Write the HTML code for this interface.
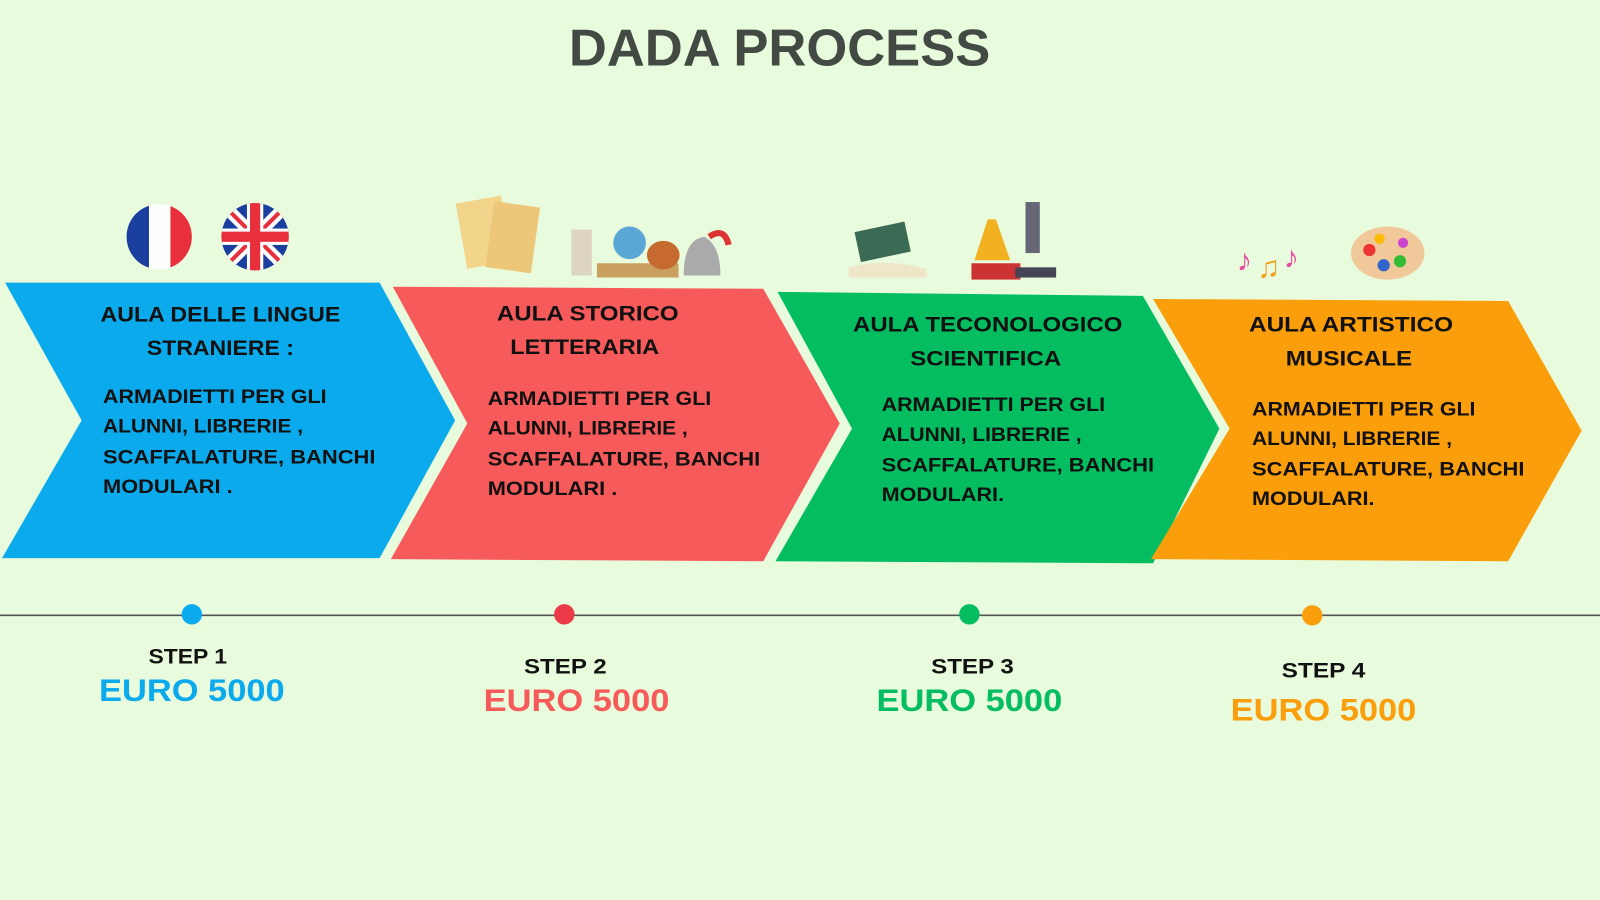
<!DOCTYPE html>
<html><head><meta charset="utf-8"><style>
html,body{margin:0;padding:0;background:#e8fbdc;}
svg{display:block}
text{font-family:"Liberation Sans",sans-serif;font-weight:bold;}
</style></head><body>
<svg width="1600" height="900" viewBox="0 0 1568 882" preserveAspectRatio="none" xmlns="http://www.w3.org/2000/svg">
<rect width="1568" height="882" fill="#e8fbdc"/>
<text x="764" y="64" font-size="51" text-anchor="middle" fill="#434a43" textLength="413" lengthAdjust="spacingAndGlyphs">DADA PROCESS</text>

<polygon points="5,277 372,277 446,412 372,547 2,547 80,412" fill="#0aaaec"/>
<polygon points="385,281 748,283 823,415 748,550 383,548 458,415" fill="#f75a5a"/>
<polygon points="762,286 1120,290 1195,420 1130,552 760,550 835,420" fill="#04bd60"/>
<polygon points="1130,293 1478,295 1550,422 1478,550 1128,548 1205,420" fill="#fb9e0b"/>

<g fill="#111" font-size="21" text-anchor="middle" lengthAdjust="spacingAndGlyphs">
<text x="216" y="315" textLength="235" lengthAdjust="spacingAndGlyphs">AULA DELLE LINGUE</text><text x="216" y="348" textLength="144" lengthAdjust="spacingAndGlyphs">STRANIERE :</text>
<text x="576" y="314" textLength="178" lengthAdjust="spacingAndGlyphs">AULA STORICO</text><text x="573" y="347" textLength="146" lengthAdjust="spacingAndGlyphs">LETTERARIA</text>
<text x="968" y="325" textLength="264" lengthAdjust="spacingAndGlyphs">AULA TECONOLOGICO</text><text x="966" y="358" textLength="148" lengthAdjust="spacingAndGlyphs">SCIENTIFICA</text>
<text x="1324" y="325" textLength="200" lengthAdjust="spacingAndGlyphs">AULA ARTISTICO</text><text x="1322" y="358" textLength="124" lengthAdjust="spacingAndGlyphs">MUSICALE</text>
</g>
<g fill="#111" font-size="19">
<text x="101" y="395" textLength="219" lengthAdjust="spacingAndGlyphs">ARMADIETTI PER GLI</text><text x="101" y="424" textLength="196" lengthAdjust="spacingAndGlyphs">ALUNNI, LIBRERIE ,</text><text x="101" y="454" textLength="267" lengthAdjust="spacingAndGlyphs">SCAFFALATURE, BANCHI</text><text x="101" y="483" textLength="127" lengthAdjust="spacingAndGlyphs">MODULARI .</text>
<text x="478" y="397" textLength="219" lengthAdjust="spacingAndGlyphs">ARMADIETTI PER GLI</text><text x="478" y="426" textLength="196" lengthAdjust="spacingAndGlyphs">ALUNNI, LIBRERIE ,</text><text x="478" y="456" textLength="267" lengthAdjust="spacingAndGlyphs">SCAFFALATURE, BANCHI</text><text x="478" y="485" textLength="127" lengthAdjust="spacingAndGlyphs">MODULARI .</text>
<text x="864" y="403" textLength="219" lengthAdjust="spacingAndGlyphs">ARMADIETTI PER GLI</text><text x="864" y="432" textLength="196" lengthAdjust="spacingAndGlyphs">ALUNNI, LIBRERIE ,</text><text x="864" y="462" textLength="267" lengthAdjust="spacingAndGlyphs">SCAFFALATURE, BANCHI</text><text x="864" y="491" textLength="120" lengthAdjust="spacingAndGlyphs">MODULARI.</text>
<text x="1227" y="407" textLength="219" lengthAdjust="spacingAndGlyphs">ARMADIETTI PER GLI</text><text x="1227" y="436" textLength="196" lengthAdjust="spacingAndGlyphs">ALUNNI, LIBRERIE ,</text><text x="1227" y="466" textLength="267" lengthAdjust="spacingAndGlyphs">SCAFFALATURE, BANCHI</text><text x="1227" y="495" textLength="120" lengthAdjust="spacingAndGlyphs">MODULARI.</text>
</g>

<line x1="0" y1="603" x2="1568" y2="603" stroke="#555" stroke-width="1.5"/>
<circle cx="188" cy="602" r="10" fill="#0aaaec"/>
<circle cx="553" cy="602" r="10" fill="#ec3a48"/>
<circle cx="950" cy="602" r="10" fill="#04bd60"/>
<circle cx="1286" cy="603" r="10" fill="#fb9e0b"/>

<g font-size="21" fill="#111" text-anchor="middle">
<text x="184" y="650" textLength="77" lengthAdjust="spacingAndGlyphs">STEP 1</text><text x="554" y="660" textLength="81" lengthAdjust="spacingAndGlyphs">STEP 2</text><text x="953" y="660" textLength="81" lengthAdjust="spacingAndGlyphs">STEP 3</text><text x="1297" y="664" textLength="82" lengthAdjust="spacingAndGlyphs">STEP 4</text>
</g>
<g font-size="31" text-anchor="middle">
<text x="188" y="687" fill="#0aaaec" textLength="182" lengthAdjust="spacingAndGlyphs">EURO 5000</text>
<text x="565" y="697" fill="#f75a5a" textLength="182" lengthAdjust="spacingAndGlyphs">EURO 5000</text>
<text x="950" y="697" fill="#04bd60" textLength="182" lengthAdjust="spacingAndGlyphs">EURO 5000</text>
<text x="1297" y="706" fill="#fb9e0b" textLength="182" lengthAdjust="spacingAndGlyphs">EURO 5000</text>
</g>

<clipPath id="c1"><circle cx="156" cy="232" r="32"/></clipPath>
<g clip-path="url(#c1)"><rect x="124" y="200" width="22" height="64" fill="#1a3f9e"/><rect x="146" y="200" width="21" height="64" fill="#fff"/><rect x="167" y="200" width="22" height="64" fill="#e8303d"/></g>
<clipPath id="c2"><circle cx="250" cy="232" r="33"/></clipPath>
<g clip-path="url(#c2)"><rect x="216" y="198" width="68" height="68" fill="#1a3f9e"/>
<path d="M216,198 L284,266 M284,198 L216,266" stroke="#fff" stroke-width="12"/>
<path d="M216,198 L284,266 M284,198 L216,266" stroke="#e8303d" stroke-width="4"/>
<rect x="216" y="224" width="68" height="16" fill="#fff"/><rect x="242" y="198" width="16" height="68" fill="#fff"/>
<rect x="216" y="227" width="68" height="10" fill="#e8303d"/><rect x="245" y="198" width="10" height="68" fill="#e8303d"/></g>

<g>
<rect x="452" y="195" width="45" height="65" fill="#f2d48a" transform="rotate(-10 475 228)"/>
<rect x="480" y="200" width="45" height="65" fill="#ecc77a" transform="rotate(8 502 232)"/>
<rect x="560" y="225" width="20" height="45" fill="#ddd5c0"/>
<circle cx="617" cy="238" r="16" fill="#5aa7d6"/>
<rect x="585" y="258" width="80" height="14" fill="#c9a060"/>
<ellipse cx="650" cy="250" rx="16" ry="14" fill="#c66a30"/>
<path d="M670,270 Q670,235 690,232 Q706,240 706,270Z" fill="#aaa"/>
<path d="M695,232 Q710,222 714,240" stroke="#d33" stroke-width="6" fill="none"/>
<rect x="840" y="222" width="50" height="30" fill="#3b6b55" transform="rotate(-12 865 237)"/>
<path d="M832,262 Q870,252 908,264 L908,272 L832,272Z" fill="#efe5c8"/>
<rect x="952" y="258" width="48" height="16" fill="#c33"/>
<path d="M968,215 L976,215 L990,255 L955,255Z" fill="#f2b120"/>
<rect x="1005" y="198" width="14" height="50" fill="#667"/>
<rect x="995" y="262" width="40" height="10" fill="#445"/>
<g font-size="30" fill="#e94ca0"><text x="1212" y="265">♪</text><text x="1232" y="272" fill="#f2a020">♫</text><text x="1258" y="262">♪</text></g>
<ellipse cx="1360" cy="248" rx="36" ry="26" fill="#f0c89a"/>
<circle cx="1342" cy="245" r="6" fill="#e33"/><circle cx="1356" cy="260" r="6" fill="#36c"/><circle cx="1372" cy="256" r="6" fill="#3b3"/><circle cx="1352" cy="234" r="5" fill="#fb0"/><circle cx="1375" cy="238" r="5" fill="#c4c"/>
</g>
</svg>
</body></html>
